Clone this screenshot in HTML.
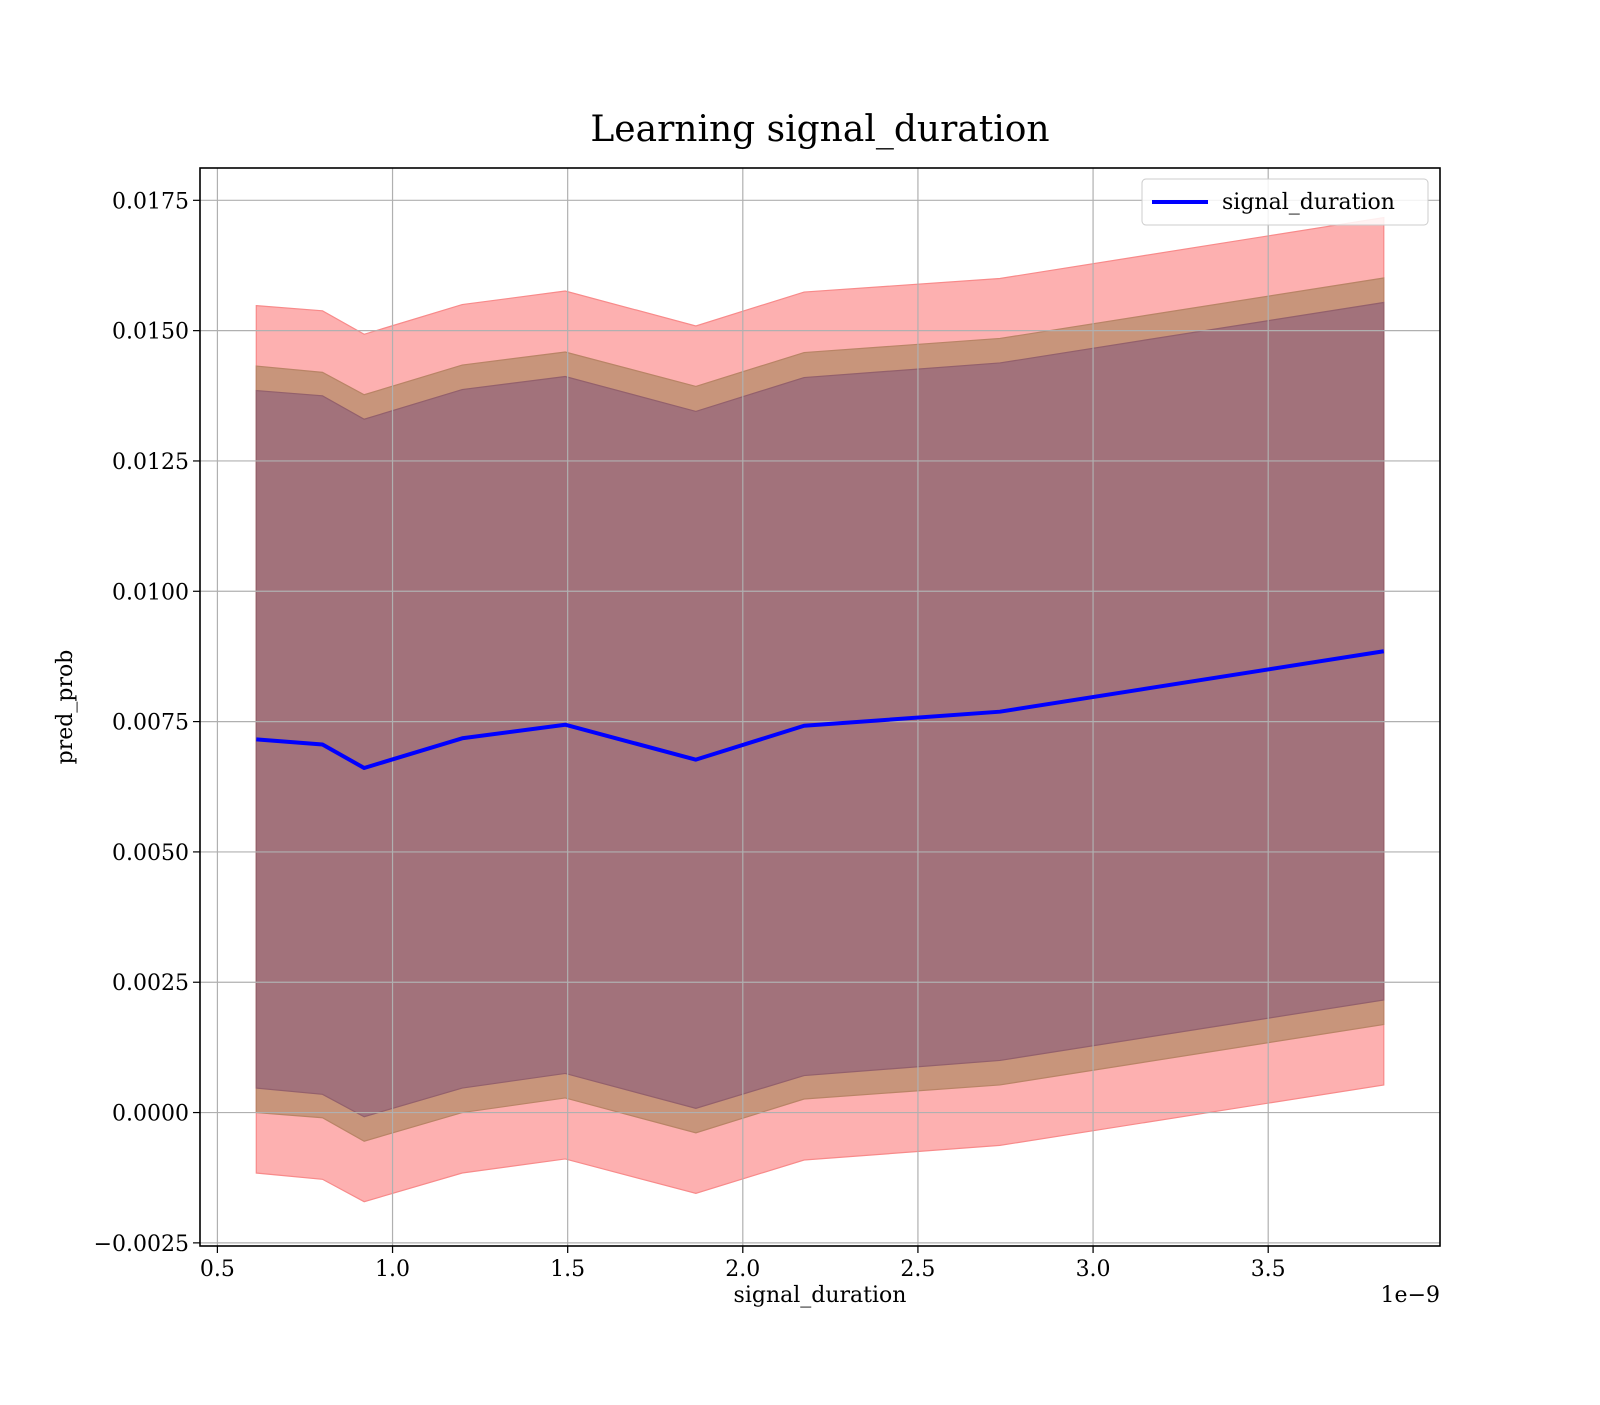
<!DOCTYPE html>
<html><head><meta charset="utf-8"><style>
html,body{margin:0;padding:0;background:#fff;}
svg text{font-family:"DejaVu Serif","Liberation Serif",serif;fill:#000;}
</style></head><body>
<svg id="chart" width="1600" height="1400" xmlns="http://www.w3.org/2000/svg">
<text x="820" y="141" font-size="36" text-anchor="middle">Learning signal_duration</text>
<g id="plot"></g>
<rect x="200" y="168" width="1240" height="1078" fill="none" stroke="#000" stroke-width="1.6"/>
<text x="820" y="1302" font-size="22" text-anchor="middle">signal_duration</text>
<text x="1440" y="1302" font-size="22" text-anchor="end">1e−9</text>
<text transform="translate(72,707) rotate(-90)" font-size="22" text-anchor="middle">pred_prob</text>
<g>
<rect x="1142" y="179" width="286" height="46" rx="4" fill="#fff" fill-opacity="0.85" stroke="#ccc"/>
<line x1="1152" y1="202" x2="1208" y2="202" stroke="#0000ff" stroke-width="4"/>
<text x="1222" y="209" font-size="22">signal_duration</text>
</g>
</svg>
<script>
const xs=[0.611,0.800,0.919,1.199,1.493,1.866,2.175,2.734,3.830];
const meanVals=[0.00716,0.00706,0.00661,0.00718,0.00744,0.00677,0.00742,0.00769,0.00885];
const outerUpper=[0.01548,0.01538,0.01493,0.0155,0.01576,0.01509,0.01574,0.0160,0.01717];
const outerLower=[-0.00116,-0.00128,-0.00171,-0.00116,-0.00089,-0.00155,-0.00091,-0.00063,0.00053];
const midUpper=[0.01432,0.0142,0.01377,0.01434,0.01459,0.01393,0.01458,0.01485,0.01601];
const midLower=[0,-0.0001,-0.00055,0,0.00028,-0.00039,0.00026,0.00053,0.00169];
const innerUpper=[0.01385,0.01375,0.0133,0.01387,0.01412,0.01345,0.0141,0.01438,0.01554];
const innerLower=[0.00047,0.00035,-0.00008,0.00047,0.00075,0.00008,0.00071,0.001,0.00216];
const xTicks=[0.5,1.0,1.5,2.0,2.5,3.0,3.5];
const xTickLabels=["0.5","1.0","1.5","2.0","2.5","3.0","3.5"];
const yTicks=[-0.0025,0,0.0025,0.005,0.0075,0.01,0.0125,0.015,0.0175];
const yTickLabels=["−0.0025","0.0000","0.0025","0.0050","0.0075","0.0100","0.0125","0.0150","0.0175"];

const L=200,R=1440,T=168,B=1246,xmin=0.4503,xmax=3.9905,ymin=-0.00256,ymax=0.01812;
const X=v=>L+(v-xmin)/(xmax-xmin)*(R-L);
const Y=v=>B-(v-ymin)/(ymax-ymin)*(B-T);
const NS="http://www.w3.org/2000/svg";
const g=document.getElementById('plot');
function mk(t,a){const e=document.createElementNS(NS,t);for(const k in a)e.setAttribute(k,a[k]);g.appendChild(e);return e;}
function band(up,lo,fill,stroke,name){
  let p=xs.map((x,i)=>X(x)+','+Y(up[i]));
  p=p.concat(xs.map((x,i)=>X(x)+','+Y(lo[i])).reverse());
  const e=mk('polygon',{points:p.join(' '),fill:fill,stroke:stroke,'stroke-width':1.2});
  
  
}
band(outerUpper,outerLower,'#fdb0b0','#f88a8a','outer-band');
band(midUpper,midLower,'#c8957b','#b98466','middle-band');
band(innerUpper,innerLower,'#a2727b','#93606c','inner-band');
xTicks.forEach((t,i)=>{
  const l=mk('line',{x1:X(t),x2:X(t),y1:T,y2:B+7,stroke:'#b0b0b0','stroke-width':1.2});
  
  
  const k=mk('line',{x1:X(t),x2:X(t),y1:B,y2:B+7,stroke:'#000','stroke-width':1.2});
  
  
  const tx=mk('text',{x:X(t),y:B+30,'font-size':22,'text-anchor':'middle'});
  tx.textContent=xTickLabels[i];
  
  
});
yTicks.forEach((t,i)=>{
  const l=mk('line',{x1:L,x2:R,y1:Y(t),y2:Y(t),stroke:'#b0b0b0','stroke-width':1.2});
  
  
  const k=mk('line',{x1:L-7,x2:L,y1:Y(t),y2:Y(t),stroke:'#000','stroke-width':1.2});
  
  
  const tx=mk('text',{x:L-11,y:Y(t)+8,'font-size':22,'text-anchor':'end'});
  tx.textContent=yTickLabels[i];
  
  
});
const ln=mk('polyline',{points:xs.map((x,i)=>X(x)+','+Y(meanVals[i])).join(' '),fill:'none',stroke:'#0000ff','stroke-width':4,'stroke-linejoin':'round'});


</script>
</body></html>
